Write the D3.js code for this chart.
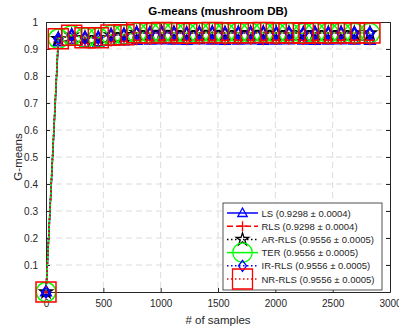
<!DOCTYPE html>
<html>
<head>
<meta charset="utf-8">
<script src="https://cdn.jsdelivr.net/npm/d3@7"></script>
<style>
  body { margin: 0; background: #fff; }
  text { font-family: "Liberation Sans", Arial, sans-serif; }
</style>
</head>
<body>
<div id="chart"></div>
<script>
// sample counts (x)
var samples = [0, 107, 224, 340, 456, 567, 680, 791, 907, 1009, 1116, 1227, 1337, 1450,
  1561, 1677, 1785, 1895, 2008, 2119, 2244, 2346, 2462, 2573, 2689, 2825]

// G-means per method
var lsVals = [0, 0.926, 0.933, 0.921, 0.924, 0.928, 0.930, 0.932, 0.933, 0.934, 0.933, 0.932,
  0.934, 0.933, 0.932, 0.933, 0.934, 0.932, 0.933, 0.934, 0.933, 0.932, 0.933, 0.934, 0.933, 0.932]
var rlsVals = lsVals
var nrVals = [0, 0.938, 0.951, 0.942, 0.942, 0.952, 0.953, 0.960, 0.959, 0.961, 0.960, 0.958,
  0.960, 0.961, 0.959, 0.960, 0.960, 0.961, 0.959, 0.960, 0.958, 0.960, 0.959, 0.960, 0.959, 0.959]
var arVals = nrVals, terVals = nrVals, irVals = nrVals

var seriesNames = ['LS', 'RLS', 'AR-RLS', 'TER', 'IR-RLS', 'NR-RLS']
var seriesLabels = ['LS (0.9298 \u00b1 0.0004)', 'RLS (0.9298 \u00b1 0.0004)', 'AR-RLS (0.9556 \u00b1 0.0005)',
  'TER (0.9556 \u00b1 0.0005)', 'IR-RLS (0.9556 \u00b1 0.0005)', 'NR-RLS (0.9556 \u00b1 0.0005)']
var seriesVals = [lsVals, rlsVals, arVals, terVals, irVals, nrVals]

var xTicks = [0, 500, 1000, 1500, 2000, 2500, 3000]
var yTicks = [0.1, 0.2, 0.3, 0.4, 0.5, 0.6, 0.7, 0.8, 0.9, 1]

// marker paths (MATLAB-like)
var markers = {
  triangle: () => 'M0,-5L4.7,3.5L-4.7,3.5Z',
  plus: () => 'M-5,0H5M0,-5V5',
  star: () => d3.symbol(d3.symbolStar, 48)(),
  circle: () => d3.symbol(d3.symbolCircle, Math.PI * 95)(),
  diamond: () => 'M0,-5.5L4,0L0,5.5L-4,0Z',
  square: () => 'M-10,-10H10V10H-10Z'
}
var styles = [
  {color: '#0000ff', dash: null, marker: 'triangle'},
  {color: '#ff0000', dash: '6,3', marker: 'plus'},
  {color: '#000000', dash: '1.5,2.5', marker: 'star'},
  {color: '#00ff00', dash: null, marker: 'circle'},
  {color: '#0000ff', dash: '1.5,2.5', marker: 'diamond'},
  {color: '#ff0000', dash: '1.5,2.5', marker: 'square'}
]

var W = 399, H = 333
var margin = {top: 22, right: 9, bottom: 41, left: 46}
var width = W - margin.left - margin.right
var height = H - margin.top - margin.bottom

var svg = d3.select('#chart').append('svg')
  .attr('width', W)
  .attr('height', H)

var x = d3.scaleLinear().domain([0, 3000]).range([margin.left, margin.left + width])
var y = d3.scaleLinear().domain([0, 1]).range([margin.top + height, margin.top])

// grid
svg.append('g').selectAll('line').data(xTicks.slice(1, -1)).join('line')
  .attr('x1', d => x(d)).attr('x2', d => x(d))
  .attr('y1', margin.top).attr('y2', margin.top + height)
  .attr('stroke', '#dcdcdc').attr('stroke-dasharray', '6,4')
svg.append('g').selectAll('line').data(yTicks.slice(0, -1)).join('line')
  .attr('x1', margin.left).attr('x2', margin.left + width)
  .attr('y1', d => y(d)).attr('y2', d => y(d))
  .attr('stroke', '#dcdcdc').attr('stroke-dasharray', '6,4')

// axes (ticks inside, box on)
var axCol = '#262626'
var fmt = d => String(d)
var axes = [
  svg.append('g').attr('transform', `translate(0,${margin.top + height})`)
    .call(d3.axisBottom(x).tickValues(xTicks).tickSizeInner(-4).tickSizeOuter(0).tickPadding(8).tickFormat(fmt)),
  svg.append('g').attr('transform', `translate(0,${margin.top})`)
    .call(d3.axisTop(x).tickValues(xTicks).tickSizeInner(-4).tickSizeOuter(0).tickFormat('')),
  svg.append('g').attr('transform', `translate(${margin.left},0)`)
    .call(d3.axisLeft(y).tickValues(yTicks).tickSizeInner(-4).tickSizeOuter(0).tickPadding(8).tickFormat(fmt)),
  svg.append('g').attr('transform', `translate(${margin.left + width},0)`)
    .call(d3.axisRight(y).tickValues(yTicks).tickSizeInner(-4).tickSizeOuter(0).tickFormat(''))
]
axes.forEach(g => {
  g.select('.domain').attr('stroke', axCol)
  g.selectAll('.tick line').attr('stroke', axCol)
  g.selectAll('.tick text').attr('fill', axCol).attr('font-size', 10)
    .attr('font-family', '"Liberation Sans", Arial, sans-serif')
})

// series
var lineFunction = d3.line()
  .x((d, i) => x(samples[i]))
  .y(d => y(d))

seriesVals.forEach(function(vals, k) {
  var st = styles[k]
  svg.append('path')
    .attr('d', lineFunction(vals))
    .attr('fill', 'none')
    .attr('stroke', st.color)
    .attr('stroke-width', 1.5)
    .attr('stroke-dasharray', st.dash)
  svg.append('g').selectAll('path').data(vals).join('path')
    .attr('transform', (d, i) => `translate(${x(samples[i])},${y(d)})`)
    .attr('d', markers[st.marker]())
    .attr('fill', 'none')
    .attr('stroke', st.color)
    .attr('stroke-width', st.marker == 'triangle' || st.marker == 'diamond' ? 2.2 : 1.5)
})

// titles
svg.append('text')
  .attr('x', margin.left + width / 2).attr('y', 15)
  .attr('text-anchor', 'middle')
  .attr('font-size', 11.5).attr('font-weight', 'bold')
  .text('G-means (mushroom DB)')
svg.append('text')
  .attr('x', margin.left + width / 2).attr('y', 324)
  .attr('text-anchor', 'middle')
  .attr('font-size', 11.5).attr('fill', axCol)
  .text('# of samples')
svg.append('text')
  .attr('transform', `translate(22,${margin.top + height / 2}) rotate(-90)`)
  .attr('text-anchor', 'middle')
  .attr('font-size', 11.5).attr('fill', axCol)
  .text('G-means')

// legend
var legend = svg.append('g').attr('transform', 'translate(223,203)')
legend.append('rect')
  .attr('width', 159).attr('height', 87)
  .attr('fill', '#fff').attr('stroke', axCol).attr('stroke-width', 0.8)
seriesLabels.forEach(function(lab, k) {
  var st = styles[k]
  var ly = 10 + k * 13.2
  legend.append('line')
    .attr('x1', 4).attr('x2', 35).attr('y1', ly).attr('y2', ly)
    .attr('stroke', st.color).attr('stroke-width', 1.5)
    .attr('stroke-dasharray', st.dash)
  legend.append('path')
    .attr('transform', `translate(19.5,${ly})`)
    .attr('d', markers[st.marker]())
    .attr('fill', 'none').attr('stroke', st.color).attr('stroke-width', 1.3)
  legend.append('text')
    .attr('x', 38.5).attr('y', ly + 3.5)
    .attr('font-size', 9.5).attr('fill', axCol)
    .text(lab)
})
</script>
</body>
</html>
